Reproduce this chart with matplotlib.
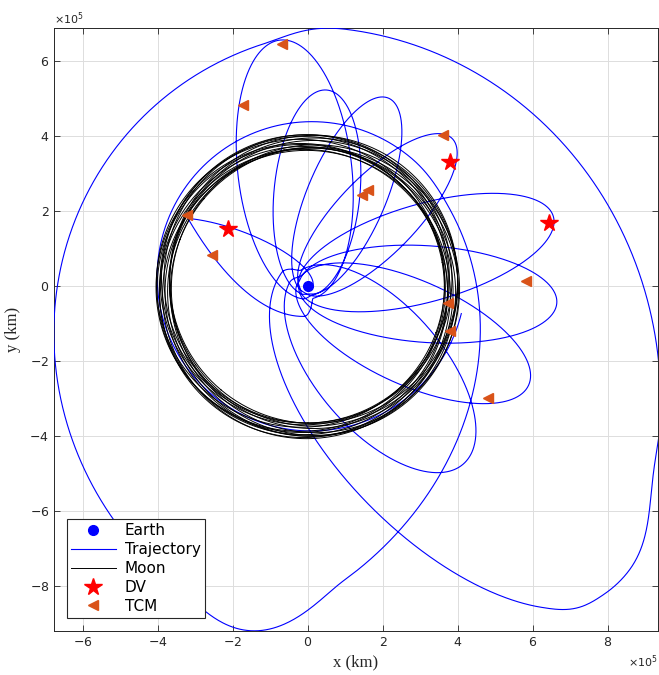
import numpy as np
import matplotlib.pyplot as plt
from matplotlib.ticker import ScalarFormatter, MultipleLocator

SC = 1e5  # plot values below are in units of 1e5 km

# Earth and manoeuvre markers
earth_x = [0.0]
earth_y = [0.0]
dv_x = [-2.12, 3.78, 6.42]
dv_y = [1.51, 3.31, 1.68]
tcm_x = [-3.23, -2.56, -1.74, -0.70, 1.43, 1.60, 3.60, 5.82, 4.80, 3.73, 3.78]
tcm_y = [1.89, 0.82, 4.84, 6.45, 2.42, 2.55, 4.02, 0.13, -2.99, -0.46, -1.21]

# trajectory legs, each an Earth-centred conic arc:
# apogee direction (deg), apogee radius, perigee radius
# order: launch to Moon, return, 8 phasing loops, outbound, far turn, big loop (2 arcs),
# inbound, with Moon
leg_apo_deg = [160, 100, 96.5, 84.5, 66.8, 45.7, 15.8, -3.9, -24.2, -48.9,
               315, 317, 267.6, 316.6, 210, 70]
leg_ra = [4.5, 18.7, 6.6, 5.25, 5.45, 5.5, 6.8, 6.65, 6.45, 6.3,
          11.5, 11.45, 13.15, 10.84, 12.5, 4.4]
leg_rp = [0.13, 0.8, 0.35, 0.25, 0.2, 0.2, 0.25, 0.25, 0.3, 0.45,
          0.77, 1.6, 6.91, 6.30, 4.3, 3.85]
# polar angle (unwrapped, deg) where one leg hands over to the next + blend half width
leg_switch_deg = [150.3, 278, 630.5, 975.65, 1316.25, 1650.75, 1985.95, 2325.95, 2663.45,
                  3013, 3190, 3208, 3330, 3502, 3640]
leg_blend_deg = [0, 15, 25, 25, 25, 25, 25, 25, 25, 20, 4, 10, 10, 15, 15]
traj_start_deg = -40
traj_end_deg = 3950

# Moon orbit, one ellipse per revolution
moon_a = 3.844
moon_ecc = [0.055, 0.045, 0.060, 0.050, 0.055, 0.040, 0.060, 0.050,
            0.045, 0.055, 0.050, 0.060, 0.042, 0.058, 0.048, 0.052]
moon_peri_deg = [10, 45, 80, 120, 160, 195, 230, 270, 305, 340, 20, 60, 100, 140, 215, 290]


def conic_r(th_deg, ra, rp, apo_deg):
    p = 2 * ra * rp / (ra + rp)
    e = (ra - rp) / (ra + rp)
    return p / (1 + e * np.cos(np.radians(th_deg - apo_deg - 180)))


def ramp(th, b, hw):
    if hw == 0:
        return (th >= b).astype(float)
    s = np.clip((th - (b - hw)) / (2 * hw), 0, 1)
    return s * s * (3 - 2 * s)


th = np.arange(traj_start_deg, traj_end_deg, 0.2)
ups = [np.ones_like(th)] + [ramp(th, b, w) for b, w in zip(leg_switch_deg, leg_blend_deg)] + [np.zeros_like(th)]
r = np.zeros_like(th)
for i in range(len(leg_ra)):
    wt = ups[i] - ups[i + 1]
    r += wt * conic_r(th, leg_ra[i], leg_rp[i], leg_apo_deg[i])
traj_x = r * np.cos(np.radians(th)) * SC
traj_y = r * np.sin(np.radians(th)) * SC

plt.rcParams['font.family'] = ['DejaVu Sans']
fig = plt.figure(figsize=(6.59, 6.75), dpi=100)
ax = fig.add_axes([54 / 659, 44 / 675, 604 / 659, 603 / 675])

ax.plot(np.array(earth_x) * SC, np.array(earth_y) * SC, 'o', color='b', ms=7, label='Earth', zorder=5)
ax.plot(traj_x, traj_y, color='b', lw=0.8, label='Trajectory', zorder=3)
nu = np.linspace(0, 2 * np.pi, 400)
for k, (ecc, peri) in enumerate(zip(moon_ecc, moon_peri_deg)):
    rm = moon_a * (1 - ecc ** 2) / (1 + ecc * np.cos(nu))
    ang = nu + np.radians(peri)
    ax.plot(rm * np.cos(ang) * SC, rm * np.sin(ang) * SC, color='k', lw=0.7,
            label='Moon' if k == 0 else None, zorder=4)
ax.plot(np.array(dv_x) * SC, np.array(dv_y) * SC, '*', color='r', ms=13, label='DV', zorder=6)
ax.plot(np.array(tcm_x) * SC, np.array(tcm_y) * SC, '<', color=(0.85, 0.325, 0.098), ms=7,
        label='TCM', zorder=6)

ax.set_xlim(-6.773 * SC, 9.333 * SC)
ax.set_ylim(-9.2 * SC, 6.88 * SC)
ax.xaxis.set_major_locator(MultipleLocator(2 * SC))
ax.yaxis.set_major_locator(MultipleLocator(2 * SC))
for axis in (ax.xaxis, ax.yaxis):
    fmt = ScalarFormatter(useMathText=True)
    fmt.set_powerlimits((0, 0))
    axis.set_major_formatter(fmt)
    axis.get_offset_text().set_fontsize(8)
    axis.get_offset_text().set_color('#555555')

ax.grid(True, color='#dddddd', lw=0.7)
ax.set_axisbelow(True)
ax.tick_params(direction='in', length=4, top=True, right=True, labelsize=9,
               colors='#262626', width=0.6)
for sp in ax.spines.values():
    sp.set_color('#262626')
    sp.set_linewidth(0.7)

ax.set_xlabel('x (km)', fontsize=12, family='Liberation Serif', color='#262626', labelpad=4)
ax.set_ylabel('y (km)', fontsize=12, family='Liberation Serif', color='#262626', labelpad=6)

leg = ax.legend(loc='lower left', bbox_to_anchor=(0.021, 0.021), borderaxespad=0,
                fancybox=False, edgecolor='#262626', framealpha=1, fontsize=11,
                handlelength=2.9, labelspacing=0.25, borderpad=0.3, handletextpad=0.6)
leg.get_frame().set_linewidth(0.8)

fig.savefig('out.png', dpi=100)
